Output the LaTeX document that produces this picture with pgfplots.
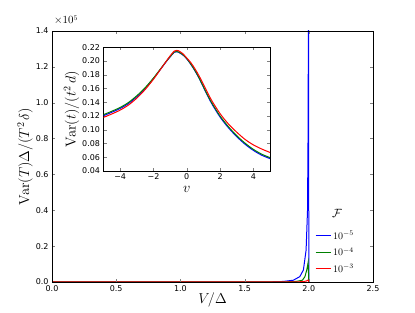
\documentclass[border=0pt]{standalone}
\usepackage{pgfplots}
\pgfplotsset{compat=1.18}
\usepackage[no-math]{fontspec}
\setmainfont{DejaVu Sans}
\definecolor{mblue}{rgb}{0,0,1}
\definecolor{mgreen}{rgb}{0,0.5,0}
\definecolor{mred}{rgb}{1,0,0}
\pgfplotstableread{
v b g r
-5 0.1205 0.1220 0.1180
-4.5 0.1255 0.1270 0.1230
-4 0.1310 0.1325 0.1286
-3.5 0.1382 0.1397 0.1360
-3 0.1480 0.1495 0.1460
-2.5 0.1600 0.1612 0.1585
-2 0.1745 0.1753 0.1735
-1.5 0.1905 0.1910 0.1905
-1.25 0.1985 0.1990 0.1990
-1 0.2060 0.2064 0.2075
-0.75 0.2128 0.2132 0.2145
-0.6 0.2135 0.2139 0.2155
-0.5 0.2128 0.2132 0.2150
-0.25 0.2092 0.2096 0.2110
0 0.2032 0.2036 0.2045
0.25 0.1950 0.1955 0.1975
0.5 0.1855 0.1860 0.1885
0.75 0.1745 0.1751 0.1780
1 0.1620 0.1627 0.1660
1.25 0.1495 0.1505 0.1540
1.5 0.1380 0.1393 0.1425
2 0.1185 0.1200 0.1235
2.5 0.1030 0.1045 0.1085
3 0.0900 0.0915 0.0965
3.5 0.0790 0.0805 0.0860
4 0.0700 0.0715 0.0780
4.5 0.0630 0.0645 0.0720
5 0.0580 0.0595 0.0670
}\inset
\pgfplotstableread{
x y
0 0
1.5 0.0005
1.7 0.001
1.8 0.003
1.88 0.01
1.93 0.03
1.958 0.067
1.979 0.178
1.99 0.4
1.995 0.9
1.998 2.0
2.0 0
}\blue
\pgfplotstableread{
x y
0 0
1.8 0.0005
1.9 0.003
1.95 0.01
1.97 0.03
1.985 0.07
1.99 0.09
1.995 0.11
2.0 0
}\green
\pgfplotstableread{
x y
0 0
1.9 0.0005
1.95 0.002
1.98 0.005
1.995 0.011
2.0 0
}\red
\begin{document}
\begin{tikzpicture}
\path[use as bounding box] (-52bp,-31bp) rectangle (363bp,282bp);
\begin{axis}[
  at={(0bp,0bp)}, anchor=south west,
  scale only axis, width=321bp, height=251bp,
  xmin=0, xmax=2.5, ymin=0, ymax=1.4,
  xtick={0,0.5,1,1.5,2,2.5}, ytick={0,0.2,0.4,0.6,0.8,1.0,1.2,1.4},
  tick align=inside, major tick length=3bp,
  scaled ticks=false,
  /pgf/number format/assume math mode=true,
  xticklabel style={/pgf/number format/.cd, fixed, fixed zerofill, precision=1},
  yticklabel style={/pgf/number format/.cd, fixed, fixed zerofill, precision=1},
  ticklabel style={font=\fontsize{8}{9}\selectfont},
  xlabel={$V/\Delta$}, ylabel={$\mathrm{Var}(T)\Delta/(T^2\,\delta)$},
  label style={font=\fontsize{14}{16}\selectfont},
  xlabel style={at={(axis description cs:0.5,-0.072)}, anchor=center},
  ylabel style={at={(axis description cs:-0.084,0.5)}, anchor=center},
  axis line style={line width=0.8bp},
  axis on top,
  legend style={draw=none, fill=none, at={(axis description cs:0.81,0.22)}, anchor=north west,
    font=\fontsize{10}{12}\selectfont, row sep=3bp},
  legend cell align=left,
  legend image code/.code={\draw[#1] (0bp,0bp) -- (15bp,0bp);},
]
\addplot[mblue, line width=1bp] table[x=x,y=y] {\blue};
\addplot[mgreen, line width=1bp] table[x=x,y=y] {\green};
\addplot[mred, line width=1bp] table[x=x,y=y] {\red};
\legend{$10^{-5}$,$10^{-4}$,$10^{-3}$}
\end{axis}
\node[anchor=base west, font=\fontsize{10.5}{12}\selectfont, inner sep=0] at (2bp,258bp) {$\times10^{5}$};
\node[font=\fontsize{13}{15}\selectfont] at (285bp,69bp) {$\mathcal{F}$};
\begin{axis}[
  at={(51.5bp,111bp)}, anchor=south west,
  scale only axis, width=166.5bp, height=123.7bp,
  xmin=-5, xmax=5, ymin=0.04, ymax=0.22,
  xtick={-4,-2,0,2,4}, xticklabels={−4,−2,0,2,4},
  ytick={0.04,0.06,0.08,0.10,0.12,0.14,0.16,0.18,0.20,0.22},
  tick align=inside, major tick length=3bp,
  scaled ticks=false,
  /pgf/number format/assume math mode=true,
  yticklabel style={/pgf/number format/.cd, fixed, fixed zerofill, precision=2},
  ticklabel style={font=\fontsize{8}{9}\selectfont},
  xticklabel style={inner sep=0pt, yshift=-2.5bp},
  xlabel={$v$}, ylabel={$\mathrm{Var}(t)/(t^2\,d)$},
  label style={font=\fontsize{14}{16}\selectfont},
  xlabel style={at={(axis description cs:0.5,-0.145)}, anchor=center, inner sep=0pt},
  ylabel style={at={(axis description cs:-0.192,0.5)}, anchor=center},
  axis line style={line width=0.8bp},
  axis background/.style={fill=white},
]
\addplot[mblue, line width=1bp, smooth, tension=0.5] table[x=v,y=b] {\inset};
\addplot[mgreen, line width=1bp, smooth, tension=0.5] table[x=v,y=g] {\inset};
\addplot[mred, line width=1bp, smooth, tension=0.5] table[x=v,y=r] {\inset};
\end{axis}
\end{tikzpicture}
\end{document}
